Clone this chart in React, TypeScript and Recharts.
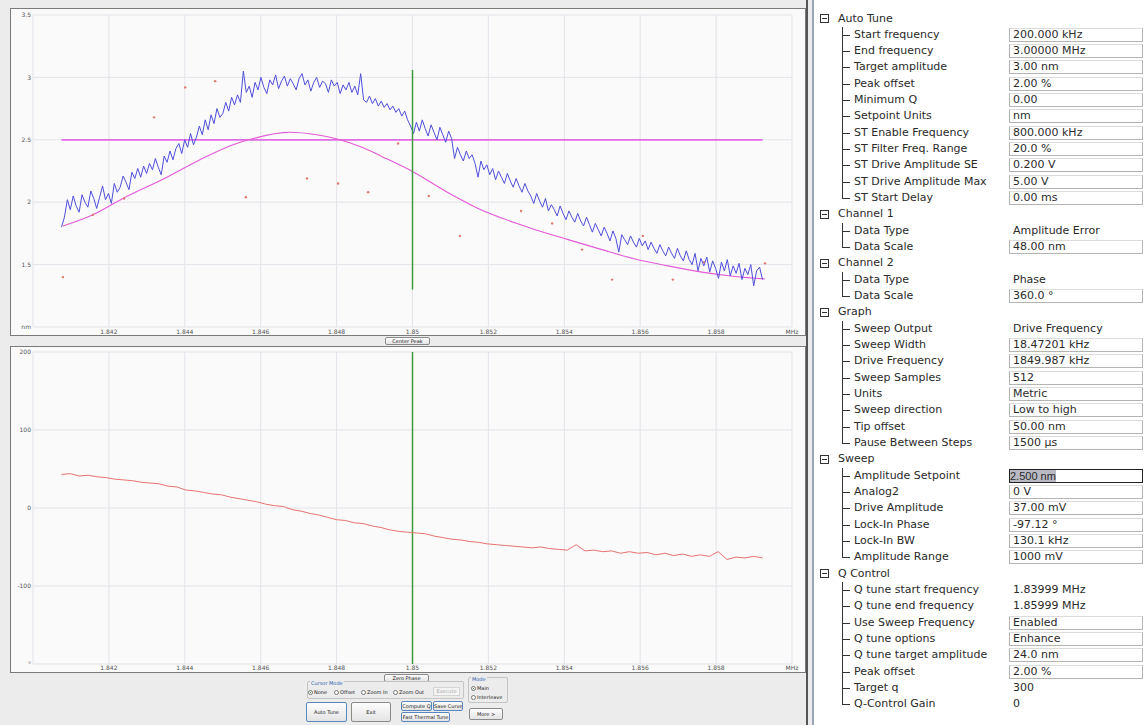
import React from "react";
import { ComposedChart, Line, XAxis, YAxis, CartesianGrid, ReferenceLine } from "recharts";

// sweep definition (Graph: drive 1849.987 kHz, width 18.47201 kHz)
const sweepStartMHz = 1.840751;
const sweepWidthMHz = 0.018472;

// channel 1 amplitude (nm)
const amplitude = [
  1.8, 1.88, 2.02, 1.94, 2.05, 1.97, 1.92, 2.06, 2.0, 1.96, 2.09, 2.03, 1.95, 2.04, 2.13, 2.02, 2.07, 1.99, 2.15, 2.08,
  2.12, 2.21, 2.16, 2.1, 2.24, 2.19, 2.27, 2.2, 2.29, 2.23, 2.31, 2.26, 2.35, 2.28, 2.22, 2.37, 2.32, 2.41, 2.34, 2.43,
  2.47, 2.39, 2.5, 2.44, 2.55, 2.46, 2.52, 2.61, 2.54, 2.66, 2.58, 2.7, 2.63, 2.75, 2.68, 2.71, 2.8, 2.73, 2.84, 2.78,
  2.86, 2.8, 3.05, 2.88, 2.93, 2.84, 2.96, 2.9, 3.0, 2.92, 2.87, 2.98, 2.94, 3.02, 2.91, 2.97, 3.01, 2.93, 2.99, 2.95,
  2.9, 2.99, 3.03, 2.94, 2.98, 2.89, 2.96, 3.0, 2.92, 2.97, 2.95, 2.88, 2.98, 2.93, 2.96, 2.87, 2.94, 2.9, 2.96, 2.88,
  2.93, 2.86, 3.03, 2.82, 2.8, 2.85, 2.79, 2.83, 2.77, 2.81, 2.76, 2.79, 2.74, 2.77, 2.72, 2.75, 2.69, 2.73, 2.66, 2.61,
  2.55, 2.64, 2.57, 2.66, 2.59, 2.53, 2.62, 2.56, 2.5, 2.6, 2.54, 2.48, 2.57, 2.51, 2.35, 2.44, 2.38, 2.33, 2.41, 2.35,
  2.38, 2.31, 2.2, 2.33, 2.26, 2.3, 2.22, 2.27, 2.18, 2.25, 2.2, 2.15, 2.23, 2.17, 2.12, 2.19, 2.13, 2.08, 2.15, 2.09,
  2.05, 1.99, 2.07, 2.01, 1.96, 2.03, 1.93, 1.98, 1.94, 1.89, 1.97, 1.91, 1.86, 1.93, 1.88, 1.84, 1.91, 1.85, 1.81, 1.88,
  1.82, 1.76, 1.83, 1.78, 1.73, 1.8, 1.75, 1.69, 1.77, 1.71, 1.6, 1.74, 1.7, 1.66, 1.73, 1.68, 1.64, 1.71, 1.65, 1.69,
  1.62, 1.68, 1.63, 1.59, 1.66, 1.61, 1.57, 1.64, 1.59, 1.55, 1.63, 1.57, 1.53, 1.61, 1.54, 1.5, 1.59, 1.45, 1.55, 1.49,
  1.56, 1.44, 1.53, 1.47, 1.39, 1.52, 1.45, 1.54, 1.41, 1.49, 1.43, 1.51, 1.38, 1.47, 1.42, 1.5, 1.33, 1.45, 1.48, 1.38,
];

// channel 2 phase (deg)
const phase = [
  43, 44, 41, 42, 40, 39, 37, 36, 35, 33, 32, 31, 28, 27, 23, 22, 20, 18, 17, 14,
  12, 10, 8, 5, 3, 2, -2, -4, -7, -9, -12, -15, -16, -19, -20, -23, -25, -28, -30, -31,
  -32, -33, -36, -38, -40, -41, -43, -44, -46, -47, -48, -49, -50, -51, -50, -52, -53, -54, -47, -55,
  -54, -56, -55, -58, -56, -58, -57, -60, -58, -61, -59, -62, -60, -62, -56, -66, -63, -64, -62, -64,
];

// fitted resonance curve
const fitFreq = [
  1.84079, 1.84158, 1.84237, 1.84353, 1.8444, 1.84527, 1.8458, 1.84677, 1.84748, 1.84804, 1.84867, 1.8492,
  1.85001, 1.85086, 1.85173, 1.85304, 1.8541, 1.85499, 1.85586, 1.85673, 1.85763, 1.8585, 1.85929,
];
const fitAmp = [
  1.81, 1.9, 2.03, 2.2, 2.34, 2.46, 2.51, 2.56, 2.54, 2.505, 2.44, 2.365,
  2.244, 2.09, 1.95, 1.8, 1.7, 1.62, 1.545, 1.49, 1.44, 1.405, 1.385,
];

// coarse sweep points
const pointFreq = [
  1.84079, 1.84158, 1.8424, 1.84319, 1.84401, 1.8448, 1.84561, 1.84722, 1.84804, 1.84883, 1.84962,
  1.85043, 1.85125, 1.85286, 1.85368, 1.85447, 1.85526, 1.85607, 1.85686, 1.85768, 1.85929,
];
const pointAmp = [
  1.4, 1.9, 2.03, 2.68, 2.92, 2.97, 2.04, 2.19, 2.15, 2.08, 2.47,
  2.05, 1.73, 1.93, 1.83, 1.62, 1.38, 1.73, 1.38, 1.52, 1.51,
];

const setpoint = 2.5;
const cursorFreq = 1.85;
const cursorTop = 3.06;
const cursorBottom = 1.3;

const freqTicks = [1.84, 1.842, 1.844, 1.846, 1.848, 1.85, 1.852, 1.854, 1.856, 1.858, 1.86];
const ampTicks = [1, 1.5, 2, 2.5, 3, 3.5];
const phaseTicks = [-200, -100, 0, 100, 200];

const sweepEnd = sweepStartMHz + sweepWidthMHz;
const ampData = amplitude.map((a, i) => ({ f: sweepStartMHz + (i * sweepWidthMHz) / (amplitude.length - 1), a }));
const phaseData = phase.map((p, i) => ({ f: sweepStartMHz + (i * sweepWidthMHz) / (phase.length - 1), p }));
const fitData = fitFreq.map((f, i) => ({ f, a: fitAmp[i] }));
const pointData = pointFreq.map((f, i) => ({ f, a: pointAmp[i] }));
const setpointData = [{ f: sweepStartMHz, a: setpoint }, { f: sweepEnd, a: setpoint }];
const cursorData = [{ f: cursorFreq, a: cursorTop }, { f: cursorFreq, a: cursorBottom }];

type Row = [string, string, boolean];
const groups: { title: string; rows: Row[] }[] = [
  {
    title: "Auto Tune",
    rows: [
      ["Start frequency", "200.000 kHz", true],
      ["End frequency", "3.00000 MHz", true],
      ["Target amplitude", "3.00 nm", true],
      ["Peak offset", "2.00 %", true],
      ["Minimum Q", "0.00", true],
      ["Setpoint Units", "nm", true],
      ["ST Enable Frequency", "800.000 kHz", true],
      ["ST Filter Freq. Range", "20.0 %", true],
      ["ST Drive Amplitude SE", "0.200 V", true],
      ["ST Drive Amplitude Max", "5.00 V", true],
      ["ST Start Delay", "0.00 ms", true],
    ],
  },
  { title: "Channel 1", rows: [["Data Type", "Amplitude Error", false], ["Data Scale", "48.00 nm", true]] },
  { title: "Channel 2", rows: [["Data Type", "Phase", false], ["Data Scale", "360.0 °", true]] },
  {
    title: "Graph",
    rows: [
      ["Sweep Output", "Drive Frequency", false],
      ["Sweep Width", "18.47201 kHz", true],
      ["Drive Frequency", "1849.987 kHz", true],
      ["Sweep Samples", "512", true],
      ["Units", "Metric", true],
      ["Sweep direction", "Low to high", true],
      ["Tip offset", "50.00 nm", true],
      ["Pause Between Steps", "1500 µs", true],
    ],
  },
  {
    title: "Sweep",
    rows: [
      ["Amplitude Setpoint", "2.500 nm", true],
      ["Analog2", "0 V", true],
      ["Drive Amplitude", "37.00 mV", true],
      ["Lock-In Phase", "-97.12 °", true],
      ["Lock-In BW", "130.1 kHz", true],
      ["Amplitude Range", "1000 mV", true],
    ],
  },
  {
    title: "Q Control",
    rows: [
      ["Q tune start frequency", "1.83999 MHz", false],
      ["Q tune end frequency", "1.85999 MHz", false],
      ["Use Sweep Frequency", "Enabled", true],
      ["Q tune options", "Enhance", true],
      ["Q tune target amplitude", "24.0 nm", true],
      ["Peak offset", "2.00 %", true],
      ["Target q", "300", false],
      ["Q-Control Gain", "0", false],
    ],
  },
];

const tickStyle = { fontSize: 6, fill: "#555", fontFamily: "DejaVu Sans" };
const gridColor = "#e3e3ea";

const fmtFreq = (v: number) => (v === 1.86 ? "MHz" : v === 1.84 ? "" : String(+v.toFixed(3)));

function AmplitudeChart() {
  return (
    <ComposedChart width={794} height={327} margin={{ top: 6, right: 13, bottom: 0, left: 0 }}>
      <CartesianGrid stroke={gridColor} />
      <XAxis type="number" dataKey="f" domain={[1.84, 1.86]} ticks={freqTicks} allowDataOverflow
        tickFormatter={fmtFreq} tick={tickStyle} tickLine={false} axisLine={false} tickSize={0} tickMargin={3} height={9} />
      <YAxis type="number" domain={[1, 3.5]} ticks={ampTicks} allowDataOverflow width={22}
        tickFormatter={(v) => (v === 1 ? "nm" : String(v))} tick={tickStyle} tickLine={false} axisLine={false} tickSize={0} tickMargin={2} />
      <Line data={setpointData} dataKey="a" stroke="#e46ae6" strokeWidth={1.8} dot={false} activeDot={false} isAnimationActive={false} />
      <Line data={fitData} dataKey="a" type="monotone" stroke="#e45ad8" strokeWidth={1.1} dot={false} activeDot={false} isAnimationActive={false} />
      <Line data={ampData} dataKey="a" stroke="#4f4fdc" strokeWidth={1} dot={false} activeDot={false} isAnimationActive={false} />
      <Line data={pointData} dataKey="a" stroke="none" dot={{ r: 1.2, fill: "#e07a70", stroke: "none" }} activeDot={false} isAnimationActive={false} />
      <Line data={cursorData} dataKey="a" stroke="#3f9a3f" strokeWidth={1.5} dot={false} activeDot={false} isAnimationActive={false} />
    </ComposedChart>
  );
}

function PhaseChart() {
  return (
    <ComposedChart width={794} height={325} margin={{ top: 5, right: 13, bottom: 0, left: 0 }}>
      <CartesianGrid stroke={gridColor} />
      <XAxis type="number" dataKey="f" domain={[1.84, 1.86]} ticks={freqTicks} allowDataOverflow
        tickFormatter={fmtFreq} tick={tickStyle} tickLine={false} axisLine={false} tickSize={0} tickMargin={2} height={8} />
      <YAxis type="number" domain={[-200, 200]} ticks={phaseTicks} allowDataOverflow width={22}
        tickFormatter={(v) => (v === -200 ? "°" : String(v))} tick={tickStyle} tickLine={false} axisLine={false} tickSize={0} tickMargin={2} />
      <ReferenceLine x={cursorFreq} stroke="#3f9a3f" strokeWidth={1.5} />
      <Line data={phaseData} dataKey="p" stroke="#e87272" strokeWidth={1} dot={false} activeDot={false} isAnimationActive={false} />
    </ComposedChart>
  );
}

const abs = (left: number, top: number, width: number, height: number): React.CSSProperties => ({
  position: "absolute", left, top, width, height, boxSizing: "border-box",
});

function Btn({ x, y, w, h, label, blue }: { x: number; y: number; w: number; h: number; label: string; blue?: boolean }) {
  return (
    <div style={{
      ...abs(x, y, w, h), border: `1px solid ${blue ? "#5a86c0" : "#8a8a8a"}`, borderRadius: 2, overflow: "hidden", whiteSpace: "nowrap",
      background: "linear-gradient(#fdfdfd,#e4e4e4)", fontSize: 5, lineHeight: `${h - 2}px`, textAlign: "center", color: "#222",
    }}>{label}</div>
  );
}

function Radio({ x, y, label, on }: { x: number; y: number; label: string; on?: boolean }) {
  return (
    <div style={{ position: "absolute", left: x, top: y, fontSize: 5, lineHeight: "6px", color: "#222", whiteSpace: "nowrap" }}>
      <span style={{
        display: "inline-block", width: 5, height: 5, borderRadius: 3, border: "1px solid #777", boxSizing: "border-box",
        background: on ? "radial-gradient(#3a9a3a 40%, #fff 45%)" : "#fff", verticalAlign: "middle", marginRight: 1,
      }} />
      {label}
    </div>
  );
}

function PropertyGrid() {
  const rowH = 16.33;
  const out: React.ReactNode[] = [];
  let k = 0;
  groups.forEach((g) => {
    const cy = 18.5 + rowH * k;
    out.push(
      <div key={`g${k}`}>
        <div style={{ ...abs(820, cy - 4.5, 9, 9), border: "1px solid #333" }}>
          <div style={{ position: "absolute", left: 1, top: 3, width: 5, height: 1, background: "#333" }} />
        </div>
        <div style={{ position: "absolute", left: 838, top: cy - 8, lineHeight: "16px" }}>{g.title}</div>
      </div>
    );
    k++;
    g.rows.forEach(([label, value, boxed], j) => {
      const c = 18.5 + rowH * k;
      const last = j === g.rows.length - 1;
      const selected = label === "Amplitude Setpoint";
      out.push(
        <div key={`r${k}`}>
          <div style={{ position: "absolute", left: 842, top: c - rowH / 2, width: 1, height: last ? rowH / 2 : rowH, background: "#333" }} />
          <div style={{ position: "absolute", left: 842, top: c, width: 8, height: 1, background: "#333" }} />
          <div style={{ position: "absolute", left: 854, top: c - 8, lineHeight: "16px", whiteSpace: "nowrap" }}>{label}</div>
          {boxed && (
            <div style={{
              ...abs(1009, c - 7, 134, 14), background: "#fff",
              border: selected ? "1px solid #222" : "1px solid #b4b4b4", borderTopColor: selected ? "#222" : "#dcdcdc",
            }} />
          )}
          <div style={{ position: "absolute", left: selected ? 1010 : 1013, top: c - 8, lineHeight: "16px", whiteSpace: "nowrap" }}>
            {selected ? (
              <span style={{ background: "#b9b9c4", fontFamily: "Liberation Sans", fontSize: 11 }}>{value}</span>
            ) : value}
          </div>
        </div>
      );
      k++;
    });
  });
  return <>{out}</>;
}

export default function App() {
  return (
    <div style={{ position: "absolute", left: 0, top: 0, width: 1148, height: 725, overflow: "hidden", background: "#ececec", fontFamily: "DejaVu Sans", fontSize: 11, color: "#2a2a2a" }}>
      {/* left: plots */}
      <div style={{ ...abs(10, 8, 796, 328), border: "1px solid #7a7a7a", background: "#fafafa" }} />
      <div style={{ position: "absolute", left: 11, top: 9 }}><AmplitudeChart /></div>
      <Btn x={385} y={337} w={45} h={8} label="Center Peak" />
      <div style={{ ...abs(10, 346, 796, 327), border: "1px solid #7a7a7a", background: "#fafafa" }} />
      <div style={{ position: "absolute", left: 11, top: 347 }}><PhaseChart /></div>
      <Btn x={384} y={674} w={45} h={8} label="Zero Phase" />

      {/* controls */}
      <div style={{ ...abs(307, 681, 157, 18), border: "1px solid #c4c4c4", borderRadius: 2 }} />
      <div style={{ position: "absolute", left: 310, top: 680, fontSize: 5, color: "#2a5db0", background: "#ececec", padding: "0 1px" }}>Cursor Mode</div>
      <Radio x={308} y={689} label="None" on />
      <Radio x={334} y={689} label="Offset" />
      <Radio x={361} y={689} label="Zoom In" />
      <Radio x={393} y={689} label="Zoom Out" />
      <div style={{ ...abs(433, 687, 27, 9), border: "1px solid #d4d4d4", fontSize: 5, lineHeight: "7px", textAlign: "center", color: "#aaa", background: "#f4f4f4" }}>Execute</div>
      <div style={{ ...abs(468, 677, 40, 26), border: "1px solid #c4c4c4", borderRadius: 2 }} />
      <div style={{ position: "absolute", left: 471, top: 676, fontSize: 5, color: "#2a5db0", background: "#ececec", padding: "0 1px" }}>Mode</div>
      <Radio x={471} y={685} label="Main" on />
      <Radio x={471} y={694} label="Interleave" />
      <Btn x={306} y={702} w={41} h={20} label="Auto Tune" blue />
      <Btn x={351} y={702} w={40} h={20} label="Exit" />
      <Btn x={401} y={701} w={31} h={10} label="Compute Q" blue />
      <Btn x={433} y={701} w={30} h={10} label="Save Curve" blue />
      <Btn x={401} y={712} w={49} h={10} label="Fast Thermal Tune" blue />
      <Btn x={469} y={708} w={34} h={12} label="More >" />

      {/* splitter + property grid */}
      <div style={{ ...abs(806, 0, 2, 725), background: "#555" }} />
      <div style={{ ...abs(812, 0, 336, 725), background: "#fff" }} />
      <div style={{ ...abs(812, 0, 2, 725), background: "#9aa6b6" }} />
      <PropertyGrid />
    </div>
  );
}
